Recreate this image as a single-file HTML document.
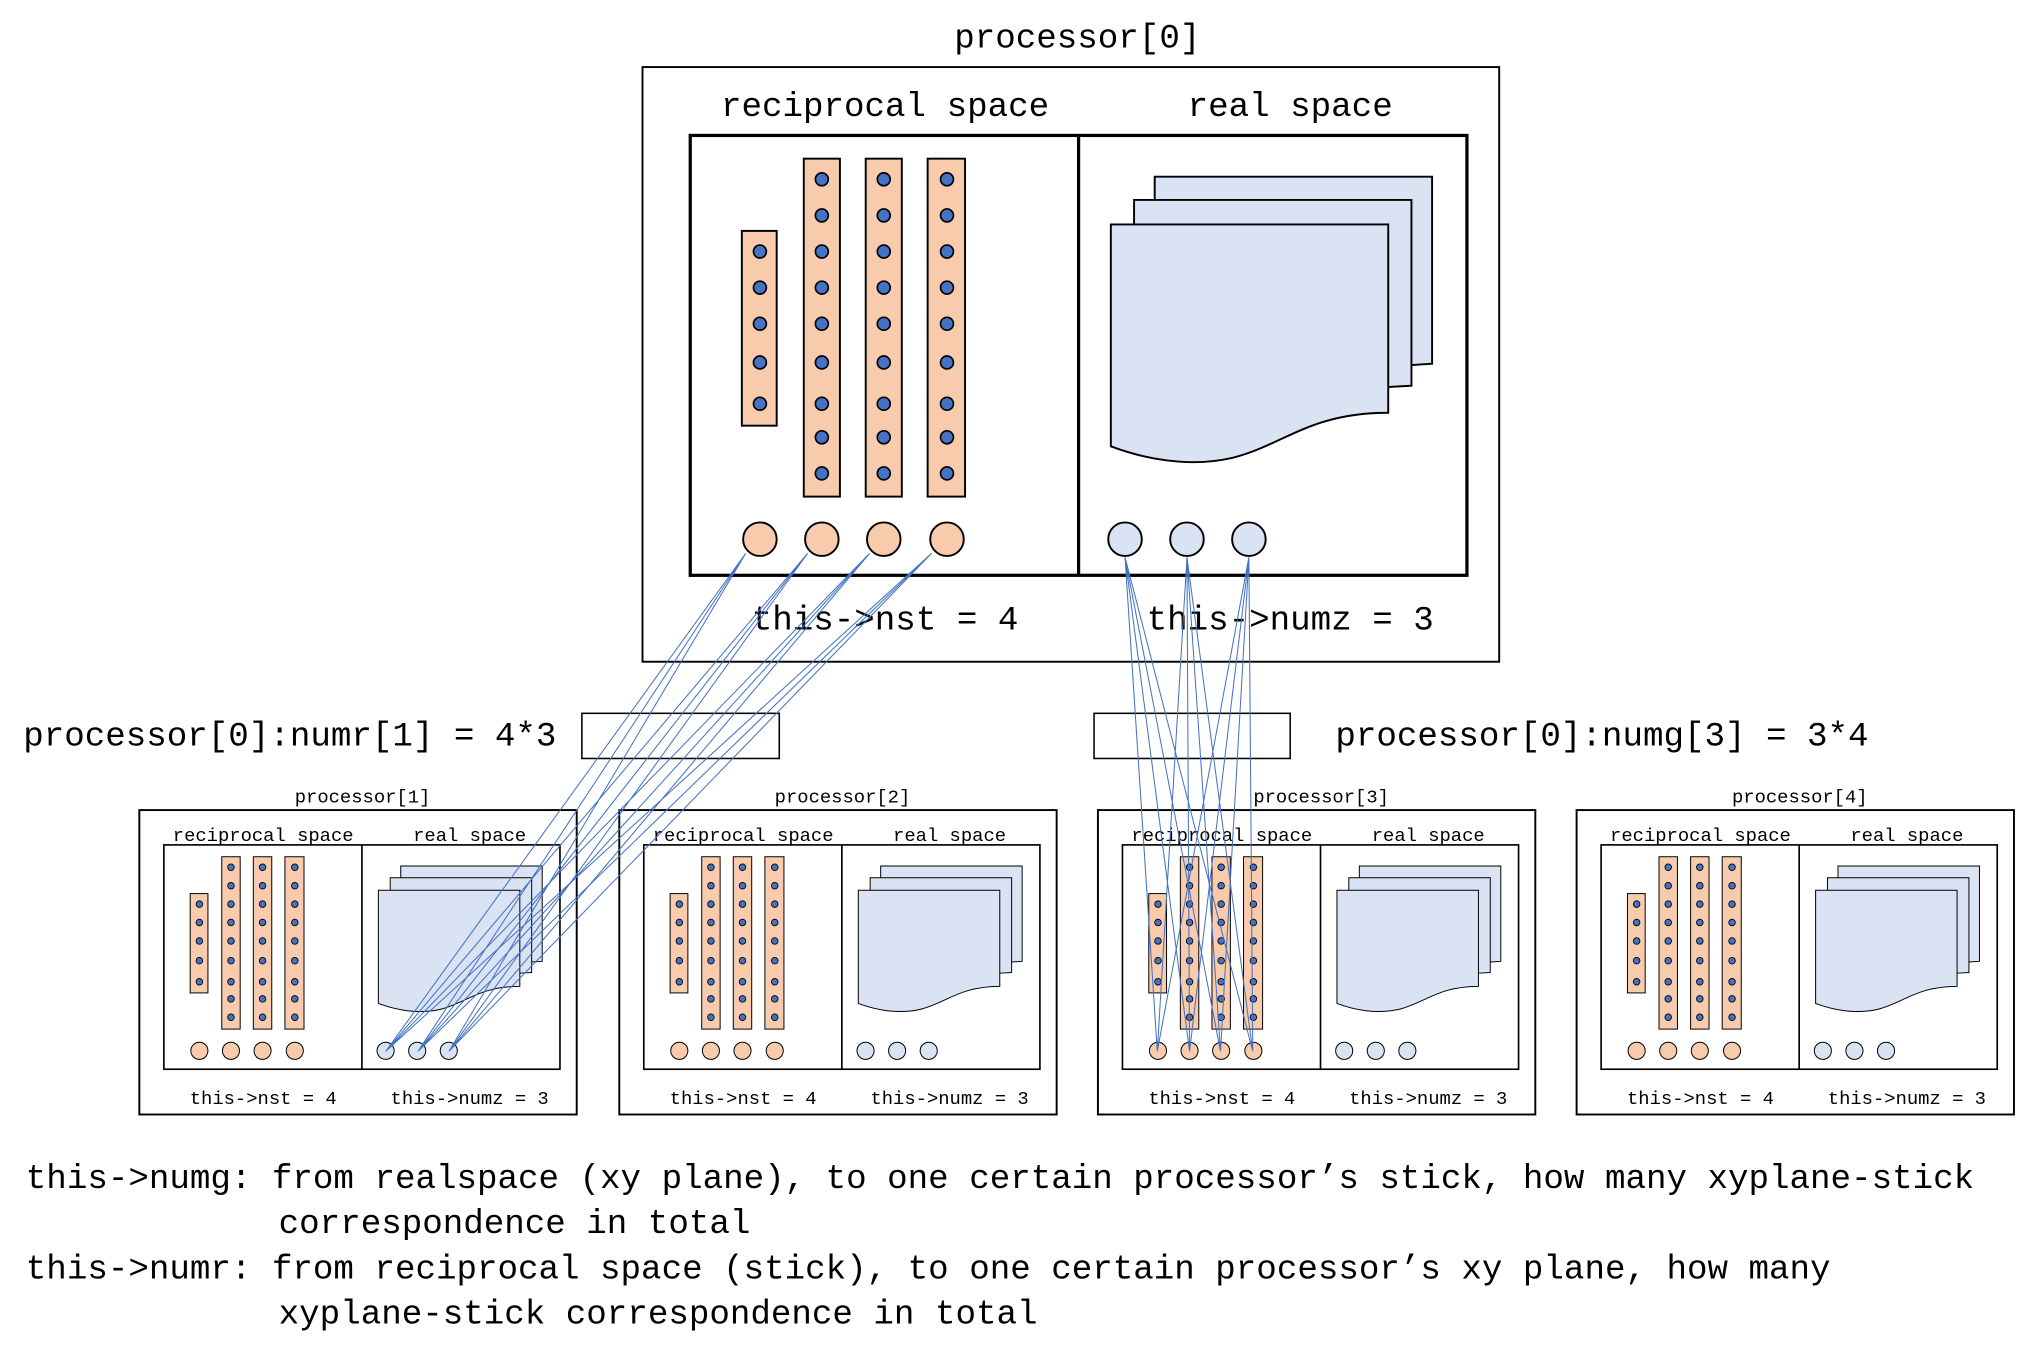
<!DOCTYPE html>
<html><head><meta charset="utf-8"><style>html,body{margin:0;padding:0;background:#fff}svg{display:block}</style></head>
<body>
<svg width="2023" height="1357" viewBox="0 0 1568 1052" preserveAspectRatio="none" xmlns="http://www.w3.org/2000/svg" font-family="'Liberation Mono', monospace">
<defs>
<g id="inner">
  <rect x="0" y="0" width="602" height="341" fill="#fff" stroke="#000" stroke-width="2.5"/>
  <line x1="301" y1="0" x2="301" y2="341" stroke="#000" stroke-width="2.5"/>
  <g fill="#f8cbad" stroke="#000" stroke-width="1.5">
    <rect x="40" y="74" width="27" height="151"/>
    <rect x="88" y="18" width="28" height="262"/>
    <rect x="136" y="18" width="28" height="262"/>
    <rect x="184" y="18" width="29" height="262"/>
    <circle cx="54" cy="313" r="13"/><circle cx="102" cy="313" r="13"/><circle cx="150" cy="313" r="13"/><circle cx="199" cy="313" r="13"/>
  </g>
  <g fill="#4472c4" stroke="#000" stroke-width="1.3">
    <circle cx="54" cy="90" r="5"/><circle cx="54" cy="118" r="5"/><circle cx="54" cy="146" r="5"/><circle cx="54" cy="176" r="5"/><circle cx="54" cy="208" r="5"/>
    <g id="col">
      <circle cx="102" cy="34" r="5"/><circle cx="102" cy="62" r="5"/><circle cx="102" cy="90" r="5"/><circle cx="102" cy="118" r="5"/><circle cx="102" cy="146" r="5"/><circle cx="102" cy="176" r="5"/><circle cx="102" cy="208" r="5"/><circle cx="102" cy="234" r="5"/><circle cx="102" cy="262" r="5"/>
    </g>
    <use href="#col" x="48"/><use href="#col" x="97"/>
  </g>
  <g fill="#dae3f3" stroke="#000" stroke-width="1.5">
    <path d="M360,32 H575 V177 L559,178 V178 H360 Z"/>
    <path d="M344,50 H559 V194 L541,195 H344 Z"/>
    <path d="M326,69 H541 V215 C480,215 460,240 420,250 C385,258 350,250 326,241 Z"/>
    <circle cx="337" cy="313" r="13"/><circle cx="385" cy="313" r="13"/><circle cx="433" cy="313" r="13"/>
  </g>
</g>
</defs>

<text x="835" y="37" font-size="26.5" text-anchor="middle">processor[0]</text>
<rect x="498" y="52" width="664" height="461" fill="#fff" stroke="#000" stroke-width="1.5"/>
<text x="686" y="90" font-size="26.5" text-anchor="middle">reciprocal space</text>
<text x="1000" y="90" font-size="26.5" text-anchor="middle">real space</text>
<use href="#inner" x="535" y="105"/>
<text x="686" y="488" font-size="26.5" text-anchor="middle">this-&gt;nst = 4</text>
<text x="1000" y="488" font-size="26.5" text-anchor="middle">this-&gt;numz = 3</text>

<rect x="451" y="553" width="153" height="35" fill="#fff" stroke="#000" stroke-width="1.2"/>
<rect x="848" y="553" width="152" height="35" fill="#fff" stroke="#000" stroke-width="1.2"/>
<text x="18" y="578" font-size="26.5">processor[0]:numr[1] = 4*3</text>
<text x="1035" y="578" font-size="26.5">processor[0]:numg[3] = 3*4</text>

<g>
  <rect x="108" y="628" width="339" height="236" fill="#fff" stroke="#000" stroke-width="1.5"/>
  <use href="#inner" transform="translate(127,655) scale(0.51)"/>
  <text x="281" y="622" font-size="14.6" text-anchor="middle">processor[1]</text>
  <text x="204" y="652" font-size="14.6" text-anchor="middle">reciprocal space</text>
  <text x="364" y="652" font-size="14.6" text-anchor="middle">real space</text>
  <text x="204" y="856" font-size="14.6" text-anchor="middle">this-&gt;nst = 4</text>
  <text x="364" y="856" font-size="14.6" text-anchor="middle">this-&gt;numz = 3</text>
</g>
<g>
  <rect x="480" y="628" width="339" height="236" fill="#fff" stroke="#000" stroke-width="1.5"/>
  <use href="#inner" transform="translate(499,655) scale(0.51)"/>
  <text x="653" y="622" font-size="14.6" text-anchor="middle">processor[2]</text>
  <text x="576" y="652" font-size="14.6" text-anchor="middle">reciprocal space</text>
  <text x="736" y="652" font-size="14.6" text-anchor="middle">real space</text>
  <text x="576" y="856" font-size="14.6" text-anchor="middle">this-&gt;nst = 4</text>
  <text x="736" y="856" font-size="14.6" text-anchor="middle">this-&gt;numz = 3</text>
</g>
<g>
  <rect x="851" y="628" width="339" height="236" fill="#fff" stroke="#000" stroke-width="1.5"/>
  <use href="#inner" transform="translate(870,655) scale(0.51)"/>
  <text x="1024" y="622" font-size="14.6" text-anchor="middle">processor[3]</text>
  <text x="947" y="652" font-size="14.6" text-anchor="middle">reciprocal space</text>
  <text x="1107" y="652" font-size="14.6" text-anchor="middle">real space</text>
  <text x="947" y="856" font-size="14.6" text-anchor="middle">this-&gt;nst = 4</text>
  <text x="1107" y="856" font-size="14.6" text-anchor="middle">this-&gt;numz = 3</text>
</g>
<g>
  <rect x="1222" y="628" width="339" height="236" fill="#fff" stroke="#000" stroke-width="1.5"/>
  <use href="#inner" transform="translate(1241,655) scale(0.51)"/>
  <text x="1395" y="622" font-size="14.6" text-anchor="middle">processor[4]</text>
  <text x="1318" y="652" font-size="14.6" text-anchor="middle">reciprocal space</text>
  <text x="1478" y="652" font-size="14.6" text-anchor="middle">real space</text>
  <text x="1318" y="856" font-size="14.6" text-anchor="middle">this-&gt;nst = 4</text>
  <text x="1478" y="856" font-size="14.6" text-anchor="middle">this-&gt;numz = 3</text>
</g>

<g stroke="#4472c4" stroke-width="0.8" fill="none">
  <path d="M578,429 L299,815 M578,429 L324,815 M578,429 L348,815
           M626,429 L299,815 M626,429 L324,815 M626,429 L348,815
           M674,429 L299,815 M674,429 L324,815 M674,429 L348,815
           M722,429 L299,815 M722,429 L324,815 M722,429 L348,815"/>
  <path d="M872,432 L897,815 M872,432 L922,815 M872,432 L946,815 M872,432 L971,815
           M920,432 L897,815 M920,432 L922,815 M920,432 L946,815 M920,432 L971,815
           M968,432 L897,815 M968,432 L922,815 M968,432 L946,815 M968,432 L971,815"/>
</g>

<g font-size="26.5">
<text x="20" y="921">this-&gt;numg: from realspace (xy plane), to one certain processor’s stick, how many xyplane-stick</text>
<text x="216" y="956">correspondence in total</text>
<text x="20" y="991">this-&gt;numr: from reciprocal space (stick), to one certain processor’s xy plane, how many</text>
<text x="216" y="1026">xyplane-stick correspondence in total</text>
</g>
</svg>
</body></html>
